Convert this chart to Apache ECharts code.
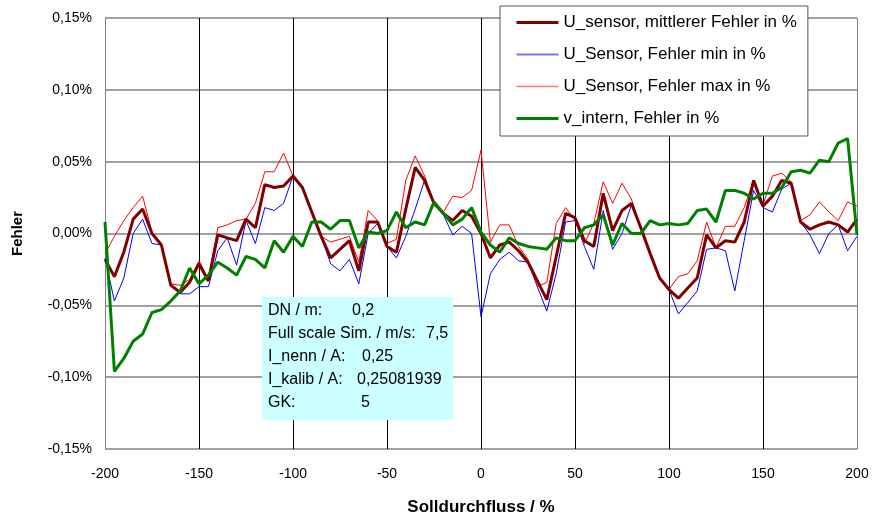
<!DOCTYPE html>
<html>
<head>
<meta charset="utf-8">
<script src="https://cdn.jsdelivr.net/npm/echarts@6/dist/echarts.min.js"></script>
<style>html,body{margin:0;padding:0;background:#fff}#c{width:876px;height:521px}</style>
</head>
<body>
<div id="c"></div>
<script>
// x positions (Solldurchfluss / %)
var xValues = [];
for (var k = -200; k <= 200; k += 5) xValues.push(k);

var seriesNames = [
  'U_sensor, mittlerer Fehler in %',
  'U_Sensor, Fehler min in %',
  'U_Sensor, Fehler max in %',
  'v_intern, Fehler in %'
];

var meanErr = [
  -0.018,-0.030,-0.013,0.010,0.017,0.000,-0.008,-0.036,-0.041,-0.034,
  -0.021,-0.033,-0.001,-0.003,-0.005,0.010,0.004,0.034,0.032,0.033,
  0.040,0.032,0.015,-0.002,-0.017,-0.011,-0.005,-0.026,0.008,0.008,
  -0.009,-0.013,0.017,0.046,0.037,0.021,0.014,0.009,0.016,0.012,
  0.000,-0.017,-0.008,-0.006,-0.012,-0.020,-0.033,-0.046,-0.016,0.014,
  0.011,-0.005,-0.009,0.028,0.002,0.016,0.021,0.004,-0.014,-0.031,
  -0.039,-0.045,-0.038,-0.031,-0.001,-0.010,-0.005,-0.006,0.008,0.037,
  0.019,0.026,0.037,0.035,0.008,0.003,0.006,0.008,0.006,0.001,
  0.010
];

var minErr = [
  -0.017,-0.047,-0.031,0.000,0.010,-0.007,-0.008,-0.036,-0.042,-0.042,
  -0.037,-0.037,-0.012,-0.003,-0.022,0.009,-0.007,0.018,0.016,0.021,
  0.040,0.032,0.015,-0.002,-0.021,-0.026,-0.018,-0.035,0.000,0.007,
  -0.009,-0.017,-0.002,0.017,0.037,0.021,0.013,-0.001,0.005,0.000,
  -0.058,-0.028,-0.018,-0.013,-0.019,-0.020,-0.037,-0.054,-0.028,0.008,
  0.009,-0.009,-0.025,0.016,-0.011,0.000,0.020,0.004,-0.014,-0.031,
  -0.039,-0.056,-0.048,-0.040,-0.011,-0.010,-0.012,-0.040,-0.005,0.030,
  0.018,0.015,0.031,0.035,0.008,-0.001,-0.014,0.000,0.006,-0.012,
  -0.002
];

var maxErr = [
  -0.014,-0.002,0.009,0.018,0.026,0.001,-0.007,-0.035,-0.036,-0.032,
  -0.019,-0.032,0.004,0.006,0.009,0.010,0.021,0.043,0.043,0.056,
  0.040,0.032,0.015,-0.002,-0.006,-0.004,-0.002,-0.020,0.016,0.009,
  -0.007,-0.004,0.037,0.054,0.040,0.021,0.015,0.026,0.025,0.030,
  0.058,-0.006,0.006,0.006,-0.009,-0.018,-0.037,-0.034,0.007,0.018,
  0.009,-0.007,0.007,0.036,0.021,0.035,0.024,0.004,-0.014,-0.031,
  -0.039,-0.030,-0.028,-0.019,0.008,-0.010,0.005,0.005,0.018,0.037,
  0.020,0.040,0.042,0.036,0.009,0.013,0.022,0.015,0.009,0.022,
  0.019
];

var vInternErr = [
  0.008,-0.096,-0.087,-0.075,-0.070,-0.055,-0.053,-0.047,-0.040,-0.024,
  -0.035,-0.029,-0.020,-0.024,-0.029,-0.016,-0.018,-0.024,-0.005,-0.013,
  -0.002,-0.009,0.008,0.008,0.003,0.009,0.009,-0.010,0.001,0.000,
  0.002,0.015,0.004,0.008,0.006,0.022,0.014,0.006,0.010,0.018,
  0.001,-0.008,-0.013,-0.003,-0.007,-0.009,-0.010,-0.011,-0.003,-0.005,
  -0.005,0.004,0.006,0.013,-0.008,0.007,0.000,0.000,0.009,0.006,
  0.007,0.006,0.007,0.016,0.017,0.008,0.030,0.030,0.028,0.024,
  0.028,0.028,0.032,0.043,0.044,0.042,0.051,0.050,0.063,0.066,
  -0.001
];

var infoLabels = ['DN / m:', 'Full scale Sim. / m/s:', 'I_nenn / A:', 'I_kalib / A:', 'GK:'];
var infoValues = ['0,2', '7,5', '0,25', '0,25081939', '5'];

function pairs(arr) { return xValues.map(function (x, i) { return [x, arr[i]]; }); }

var FONT = '"Liberation Sans", Arial, sans-serif';
var chart = echarts.init(document.getElementById('c'), null, { renderer: 'canvas' });

var infoX = 268;
var valX = [352, 426, 362, 357, 361];
var rowY = [311, 334, 357, 380, 403];
var graphics = [{
  type: 'rect', shape: { x: 262, y: 297, width: 191, height: 123 },
  style: { fill: '#ccffff', stroke: null }, z: 10
}];
infoLabels.forEach(function (t, i) {
  graphics.push({ type: 'text', x: infoX, y: rowY[i], z: 11,
    style: { text: t, fill: '#000', fontSize: 16, fontFamily: FONT, verticalAlign: 'middle' } });
  graphics.push({ type: 'text', x: valX[i], y: rowY[i], z: 11,
    style: { text: infoValues[i], fill: '#000', fontSize: 16, fontFamily: FONT, verticalAlign: 'middle' } });
});

var legendColors = ['#800000', '#7777ff', '#ff7777', '#008000'];
var legendWidths = [3, 2, 1.5, 3];

chart.setOption({
  animation: false,
  backgroundColor: '#fff',
  textStyle: { fontFamily: FONT },
  grid: { left: 105, right: 19, top: 18, bottom: 71, containLabel: false },
  legend: {
    data: seriesNames.map(function (n, i) {
      return { name: n, itemStyle: { opacity: 0 },
        lineStyle: { color: legendColors[i], width: legendWidths[i] } };
    }),
    orient: 'vertical',
    left: 500, top: 6,
    padding: [8, 11, 9, 15],
    itemWidth: 42, itemHeight: 14, itemGap: 15,
    backgroundColor: '#fff', borderColor: '#555', borderWidth: 1,
    textStyle: { fontSize: 17, color: '#000', fontFamily: FONT },
    z: 20
  },
  xAxis: {
    type: 'value', min: -200, max: 200, interval: 50,
    name: 'Solldurchfluss / %', nameLocation: 'middle', nameGap: 50,
    nameTextStyle: { fontSize: 17, fontWeight: 'bold', color: '#000', fontFamily: FONT },
    axisLine: { show: false }, axisTick: { show: false },
    axisLabel: { fontSize: 14, color: '#000', margin: 18, fontFamily: FONT },
    splitLine: { show: true, lineStyle: { width: 1,
      color: ['#808080','#000','#000','#000','#000','#000','#000','#000','#808080'] } }
  },
  yAxis: {
    type: 'value', min: -0.15, max: 0.15, interval: 0.05,
    name: 'Fehler', nameLocation: 'middle', nameGap: 80,
    nameTextStyle: { fontSize: 15, fontWeight: 'bold', color: '#000', fontFamily: FONT },
    axisLine: { show: false }, axisTick: { show: false },
    axisLabel: { fontSize: 14, color: '#000', margin: 13, fontFamily: FONT,
      formatter: function (v) { var s = (Math.abs(v) < 1e-9 ? 0 : v).toFixed(2).replace('.', ','); return s + '%'; } },
    splitLine: { show: true, lineStyle: { color: '#808080', width: 1.5 } }
  },
  series: [
    { name: seriesNames[1], type: 'line', data: pairs(minErr), symbol: 'none', z: 2,
      lineStyle: { color: '#0000ff', width: 1 }, itemStyle: { color: '#0000ff' } },
    { name: seriesNames[2], type: 'line', data: pairs(maxErr), symbol: 'none', z: 2,
      lineStyle: { color: '#ff0000', width: 1 }, itemStyle: { color: '#ff0000' } },
    { name: seriesNames[0], type: 'line', data: pairs(meanErr), symbol: 'none', z: 3,
      lineStyle: { color: '#800000', width: 3 }, itemStyle: { color: '#800000' } },
    { name: seriesNames[3], type: 'line', data: pairs(vInternErr), symbol: 'none', z: 4,
      lineStyle: { color: '#008000', width: 3 }, itemStyle: { color: '#008000' } }
  ],
  graphic: graphics
});
</script>
</body>
</html>
